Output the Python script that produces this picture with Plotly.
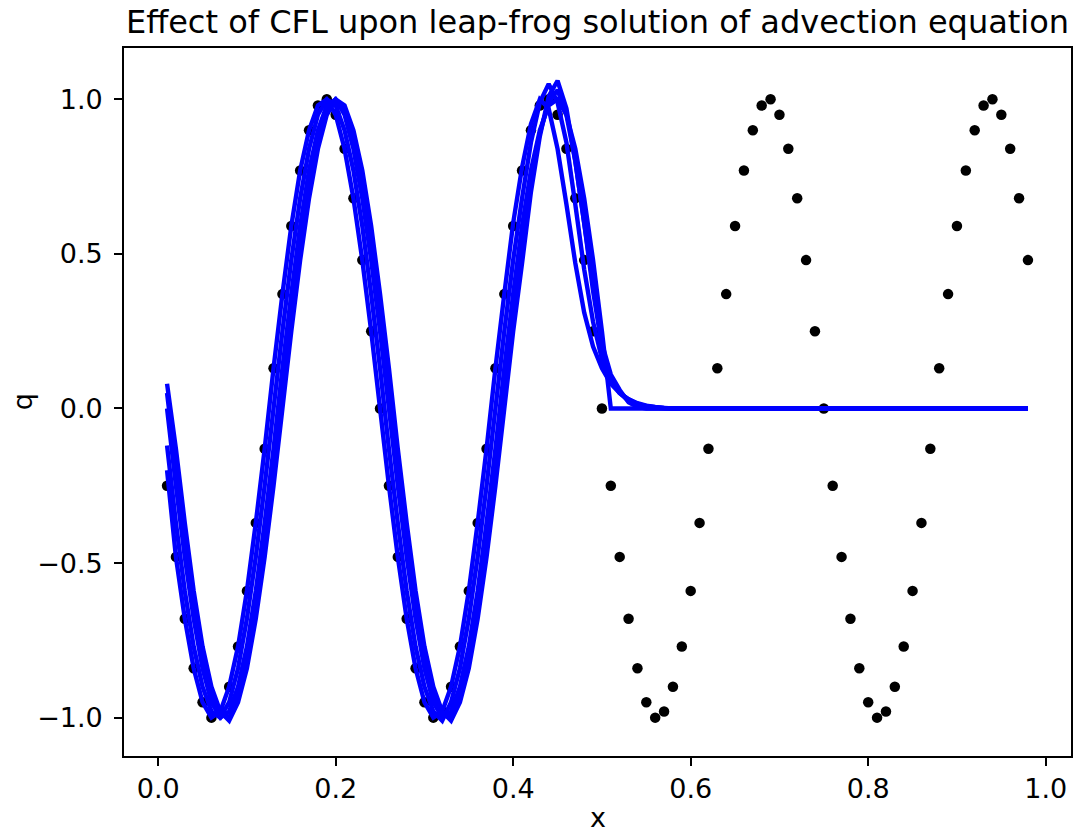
import plotly.graph_objects as go

# Grid of cell centres
x = [round(0.01 * i, 2) for i in range(1, 99)]

# Initial sine profile sampled on the grid
q_initial = [
    -0.25, -0.48, -0.68, -0.84, -0.95, -1.0, -0.98, -0.9, -0.77, -0.59,
    -0.37, -0.13, 0.13, 0.37, 0.59, 0.77, 0.9, 0.98, 1.0, 0.95,
    0.84, 0.68, 0.48, 0.25, 0.0, -0.25, -0.48, -0.68, -0.84, -0.95,
    -1.0, -0.98, -0.9, -0.77, -0.59, -0.37, -0.13, 0.13, 0.37, 0.59,
    0.77, 0.9, 0.98, 1.0, 0.95, 0.84, 0.68, 0.48, 0.25, 0.0,
    -0.25, -0.48, -0.68, -0.84, -0.95, -1.0, -0.98, -0.9, -0.77, -0.59,
    -0.37, -0.13, 0.13, 0.37, 0.59, 0.77, 0.9, 0.98, 1.0, 0.95,
    0.84, 0.68, 0.48, 0.25, 0.0, -0.25, -0.48, -0.68, -0.84, -0.95,
    -1.0, -0.98, -0.9, -0.77, -0.59, -0.37, -0.13, 0.13, 0.37, 0.59,
    0.77, 0.9, 0.98, 1.0, 0.95, 0.84, 0.68, 0.48,
]

# Leap-frog solutions, one per CFL number
q_run_a = [
    0.0, -0.25, -0.48, -0.68, -0.84, -0.95, -1.0, -0.98, -0.9, -0.77,
    -0.59, -0.37, -0.13, 0.13, 0.37, 0.59, 0.77, 0.9, 0.98, 1.0,
    0.95, 0.84, 0.68, 0.48, 0.25, 0.0, -0.25, -0.48, -0.68, -0.84,
    -0.95, -1.0, -0.98, -0.9, -0.77, -0.59, -0.37, -0.13, 0.13, 0.37,
    0.59, 0.77, 0.9, 0.98, 1.0, 0.95, 0.84, 0.68, 0.48, 0.25,
    0, 0, 0, 0, 0, 0, 0, 0, 0, 0,
    0, 0, 0, 0, 0, 0, 0, 0, 0, 0,
    0, 0, 0, 0, 0, 0, 0, 0, 0, 0,
    0, 0, 0, 0, 0, 0, 0, 0, 0, 0,
    0, 0, 0, 0, 0, 0, 0, 0,
]

q_run_b = [
    0.08, -0.13, -0.37, -0.59, -0.77, -0.9, -0.98, -1.01, -0.95, -0.84,
    -0.68, -0.48, -0.25, 0.0, 0.25, 0.48, 0.68, 0.84, 0.95, 1.0,
    0.98, 0.9, 0.77, 0.59, 0.37, 0.13, -0.13, -0.37, -0.59, -0.77,
    -0.9, -0.98, -1.01, -0.95, -0.84, -0.68, -0.48, -0.25, 0.0, 0.25,
    0.47, 0.7, 0.88, 1.01, 1.06, 0.97, 0.8, 0.6, 0.38, 0.2,
    0.1, 0.05, 0.025, 0.012, 0.006, 0.003, 0.001, 0, 0, 0,
    0, 0, 0, 0, 0, 0, 0, 0, 0, 0,
    0, 0, 0, 0, 0, 0, 0, 0, 0, 0,
    0, 0, 0, 0, 0, 0, 0, 0, 0, 0,
    0, 0, 0, 0, 0, 0, 0, 0,
]

q_run_c = [
    -0.12, -0.37, -0.59, -0.77, -0.9, -0.98, -1.0, -0.95, -0.84, -0.68,
    -0.48, -0.25, 0.0, 0.25, 0.48, 0.68, 0.84, 0.95, 1.0, 0.98,
    0.9, 0.77, 0.59, 0.37, 0.13, -0.13, -0.37, -0.59, -0.77, -0.9,
    -0.98, -1.01, -0.95, -0.84, -0.68, -0.48, -0.25, 0.0, 0.25, 0.48,
    0.68, 0.86, 0.99, 1.05, 0.99, 0.86, 0.66, 0.45, 0.28, 0.16,
    0.09, 0.05, 0.03, 0.015, 0.008, 0.004, 0.002, 0, 0, 0,
    0, 0, 0, 0, 0, 0, 0, 0, 0, 0,
    0, 0, 0, 0, 0, 0, 0, 0, 0, 0,
    0, 0, 0, 0, 0, 0, 0, 0, 0, 0,
    0, 0, 0, 0, 0, 0, 0, 0,
]

q_run_d = [
    -0.2, -0.48, -0.68, -0.84, -0.95, -1.0, -0.98, -0.9, -0.77, -0.59,
    -0.37, -0.13, 0.13, 0.37, 0.59, 0.77, 0.9, 0.98, 1.0, 0.95,
    0.84, 0.68, 0.48, 0.25, 0.0, -0.25, -0.48, -0.68, -0.84, -0.95,
    -1.0, -0.98, -0.9, -0.77, -0.59, -0.37, -0.13, 0.13, 0.37, 0.6,
    0.78, 0.92, 1.0, 0.97, 0.84, 0.66, 0.47, 0.31, 0.2, 0.13,
    0.08, 0.05, 0.03, 0.017, 0.009, 0.005, 0.002, 0.001, 0, 0,
    0, 0, 0, 0, 0, 0, 0, 0, 0, 0,
    0, 0, 0, 0, 0, 0, 0, 0, 0, 0,
    0, 0, 0, 0, 0, 0, 0, 0, 0, 0,
    0, 0, 0, 0, 0, 0, 0, 0,
]

q_run_e = [
    0.05, -0.19, -0.43, -0.64, -0.81, -0.93, -0.99, -1.0, -0.93, -0.81,
    -0.64, -0.43, -0.19, 0.06, 0.31, 0.54, 0.73, 0.87, 0.97, 1.0,
    0.97, 0.87, 0.73, 0.54, 0.31, 0.06, -0.19, -0.43, -0.64, -0.81,
    -0.93, -0.99, -1.0, -0.93, -0.81, -0.64, -0.43, -0.19, 0.06, 0.31,
    0.54, 0.74, 0.89, 0.99, 1.03, 0.95, 0.8, 0.6, 0.4, 0.21,
    0.11, 0.06, 0.02, 0.005, 0, 0, 0, 0, 0, 0,
    0, 0, 0, 0, 0, 0, 0, 0, 0, 0,
    0, 0, 0, 0, 0, 0, 0, 0, 0, 0,
    0, 0, 0, 0, 0, 0, 0, 0, 0, 0,
    0, 0, 0, 0, 0, 0, 0, 0,
]

runs = [q_run_a, q_run_b, q_run_c, q_run_d, q_run_e]

x_ticks = [0.0, 0.2, 0.4, 0.6, 0.8, 1.0]
x_tick_text = ["0.0", "0.2", "0.4", "0.6", "0.8", "1.0"]
y_ticks = [-1.0, -0.5, 0.0, 0.5, 1.0]
y_tick_text = ["\u22121.0", "\u22120.5", "0.0", "0.5", "1.0"]

FONT = "DejaVu Sans"
TICK_SIZE = 27

fig = go.Figure()

fig.add_trace(go.Scatter(
    x=x, y=q_initial, mode="markers",
    marker=dict(color="black", size=10.5, line=dict(width=0)),
    showlegend=False, hoverinfo="skip",
))

for q in runs:
    fig.add_trace(go.Scatter(
        x=x, y=q, mode="lines",
        line=dict(color="#0000ff", width=4.4, simplify=False),
        showlegend=False, hoverinfo="skip",
    ))

axis_common = dict(
    showline=True, linecolor="black", linewidth=1.8, mirror=True,
    ticks="outside", ticklen=8, tickwidth=1.8, tickcolor="black",
    showgrid=False, zeroline=False,
    tickfont=dict(family=FONT, size=TICK_SIZE, color="black"),
)

fig.update_xaxes(range=[-0.0385, 1.0285], tickvals=x_ticks, ticktext=x_tick_text,
                 ticklabelstandoff=0, **axis_common)
fig.update_yaxes(range=[-1.124, 1.166], tickvals=y_ticks, ticktext=y_tick_text,
                 ticklabelstandoff=6, **axis_common)

fig.update_layout(
    width=1074, height=835, autosize=False,
    margin=dict(l=124, r=1, t=48, b=79),
    paper_bgcolor="white", plot_bgcolor="white",
    font=dict(family=FONT, color="black"),
    title=dict(
        text="Effect of CFL upon leap-frog solution of advection equation",
        font=dict(family=FONT, size=32, color="black"),
        x=0.5, xref="paper", xanchor="center",
        y=1 - 22 / 835, yref="container", yanchor="middle",
    ),
    annotations=[
        dict(text="x", xref="paper", yref="paper", x=0.5, y=-0.087,
             xanchor="center", yanchor="middle", showarrow=False,
             font=dict(family=FONT, size=TICK_SIZE, color="black")),
        dict(text="q", xref="paper", yref="paper", x=-0.1075, y=0.5,
             xanchor="center", yanchor="middle", showarrow=False, textangle=-90,
             font=dict(family=FONT, size=TICK_SIZE, color="black")),
    ],
)

fig.write_html("out.html")
